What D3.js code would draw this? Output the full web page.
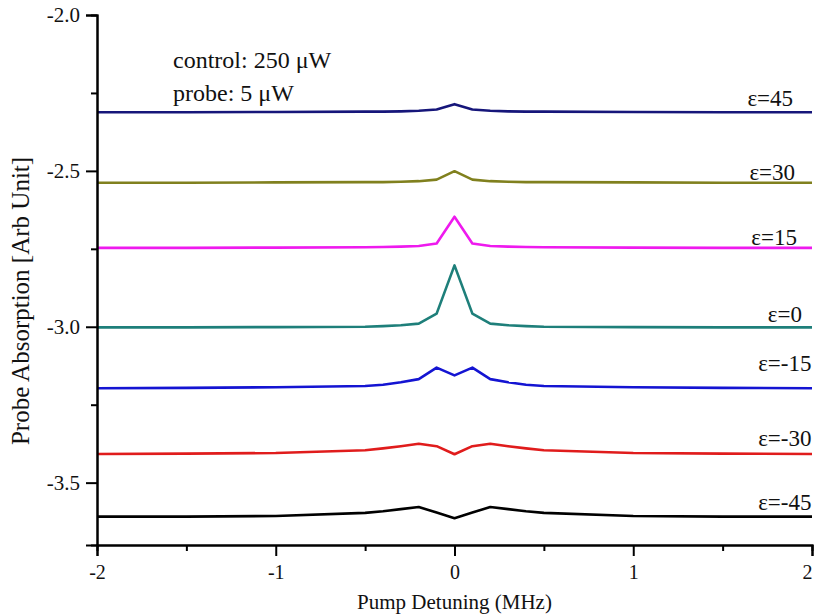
<!DOCTYPE html>
<html>
<head>
<meta charset="utf-8">
<script src="https://cdn.jsdelivr.net/npm/d3@7"></script>
<style>
  html, body { margin: 0; padding: 0; background: #fff; }
  svg { display: block; }
  text { font-family: "Liberation Serif", "Times New Roman", serif; fill: #111; }
</style>
</head>
<body>
<svg id="chart" width="814" height="615"></svg>
<script>
// ---- data ----
const detuning = [-2, -1.5, -1, -0.5, -0.4, -0.3, -0.2, -0.1, 0, 0.1, 0.2, 0.3, 0.4, 0.5, 1, 1.5, 2];
const seriesNames = ["ε=45", "ε=30", "ε=15", "ε=0", "ε=-15", "ε=-30", "ε=-45"];
const eps45  = [-2.312, -2.312, -2.311, -2.310, -2.310, -2.309, -2.307, -2.303, -2.286, -2.303, -2.307, -2.309, -2.310, -2.310, -2.311, -2.312, -2.312];
const eps30  = [-2.538, -2.538, -2.537, -2.536, -2.536, -2.535, -2.533, -2.528, -2.501, -2.528, -2.533, -2.535, -2.536, -2.536, -2.537, -2.538, -2.538];
const eps15  = [-2.747, -2.747, -2.746, -2.745, -2.744, -2.743, -2.741, -2.733, -2.647, -2.733, -2.741, -2.743, -2.744, -2.745, -2.746, -2.747, -2.747];
const eps0   = [-3.002, -3.002, -3.001, -3.000, -2.998, -2.995, -2.990, -2.958, -2.803, -2.958, -2.990, -2.995, -2.998, -3.000, -3.001, -3.002, -3.002];
const epsM15 = [-3.197, -3.196, -3.194, -3.190, -3.186, -3.178, -3.168, -3.131, -3.156, -3.131, -3.168, -3.178, -3.186, -3.190, -3.194, -3.196, -3.197];
const epsM30 = [-3.408, -3.407, -3.405, -3.396, -3.390, -3.383, -3.375, -3.383, -3.409, -3.383, -3.375, -3.383, -3.390, -3.396, -3.405, -3.407, -3.408];
const epsM45 = [-3.609, -3.609, -3.607, -3.597, -3.592, -3.585, -3.578, -3.596, -3.614, -3.596, -3.578, -3.585, -3.592, -3.597, -3.607, -3.609, -3.609];
const seriesValues = [eps45, eps30, eps15, eps0, epsM15, epsM30, epsM45];
const xTicks = [-2, -1, 0, 1, 2];
const xMinorTicks = [-1.5, -0.5, 0.5, 1.5];
const yTicks = [-2.0, -2.5, -3.0, -3.5];
const yMinorTicks = [-2.25, -2.75, -3.25];
const annotation = ["control: 250 μW", "probe: 5 μW"];

// ---- layout / style ----
const colors = ["#16167a", "#80801e", "#ee1aee", "#1e7f7a", "#1414d2", "#e01c1c", "#000000"];
// label anchor (end) in data coords [x, y]
const labelPos = [[1.894, -2.292], [1.905, -2.528], [1.916, -2.738], [1.944, -2.985], [1.997, -3.143], [1.997, -3.384], [1.997, -3.589]];

const W = 814, H = 615;
const margin = {top: 15, right: 2, bottom: 70, left: 97};
const svg = d3.select("#chart");
const x = d3.scaleLinear().domain([-2, 2]).range([margin.left, W - margin.right]);
const y = d3.scaleLinear().domain([-3.7, -2.0]).range([H - margin.bottom, margin.top]);

// series lines
const line = d3.line().x(d => x(d[0])).y(d => y(d[1]));
seriesValues.forEach((vals, i) => {
  svg.append("path")
    .datum(detuning.map((d, j) => [d, vals[j]]))
    .attr("fill", "none")
    .attr("stroke", colors[i])
    .attr("stroke-width", 2.6)
    .attr("stroke-linejoin", "round")
    .attr("d", line);
});

const fixMinus = function() { return this.textContent.replace("−", "-"); };

// x axis
const xAxisG = svg.append("g").attr("transform", `translate(0,${y(-3.7)})`);
xAxisG.call(d3.axisBottom(x).tickValues(xMinorTicks).tickSize(6).tickFormat(""));
xAxisG.append("g").call(d3.axisBottom(x).tickValues(xTicks).tickSize(11).tickFormat(d3.format("d")));
xAxisG.selectAll(".domain").attr("stroke", "#000").attr("stroke-width", 2);
xAxisG.selectAll(".tick line").attr("stroke", "#000").attr("stroke-width", 2);
xAxisG.selectAll(".tick text")
  .attr("font-size", 20).attr("font-family", "Liberation Serif").attr("fill", "#111")
  .attr("dy", "0.71em").attr("y", 20)
  .text(fixMinus);
xAxisG.selectAll(".tick text").filter(d => d === 2).attr("dx", -5);

// y axis
const yAxisG = svg.append("g").attr("transform", `translate(${x(-2)},0)`);
yAxisG.call(d3.axisLeft(y).tickValues(yMinorTicks).tickSize(6).tickFormat(""));
yAxisG.append("g").call(d3.axisLeft(y).tickValues(yTicks).tickSize(11).tickFormat(d3.format(".1f")));
yAxisG.selectAll(".domain").attr("stroke", "#000").attr("stroke-width", 2);
yAxisG.selectAll(".tick line").attr("stroke", "#000").attr("stroke-width", 2);
yAxisG.selectAll(".tick text")
  .attr("font-size", 21).attr("font-family", "Liberation Serif").attr("fill", "#111")
  .attr("x", -17)
  .text(fixMinus);

// axis titles
svg.append("text")
  .attr("x", x(0)).attr("y", 609)
  .attr("text-anchor", "middle")
  .attr("font-size", 21)
  .text("Pump Detuning (MHz)");
svg.append("text")
  .attr("transform", `translate(29,301) rotate(-90)`)
  .attr("text-anchor", "middle")
  .attr("font-size", 25)
  .text("Probe Absorption [Arb Unit]");

// annotation
annotation.forEach((t, i) => {
  svg.append("text")
    .attr("x", 173).attr("y", 68 + i * 33)
    .attr("font-size", 24)
    .text(t);
});

// series labels
seriesNames.forEach((n, i) => {
  svg.append("text")
    .attr("x", x(labelPos[i][0])).attr("y", y(labelPos[i][1]))
    .attr("text-anchor", "end")
    .attr("font-size", 23)
    .text(n);
});
</script>
</body>
</html>
